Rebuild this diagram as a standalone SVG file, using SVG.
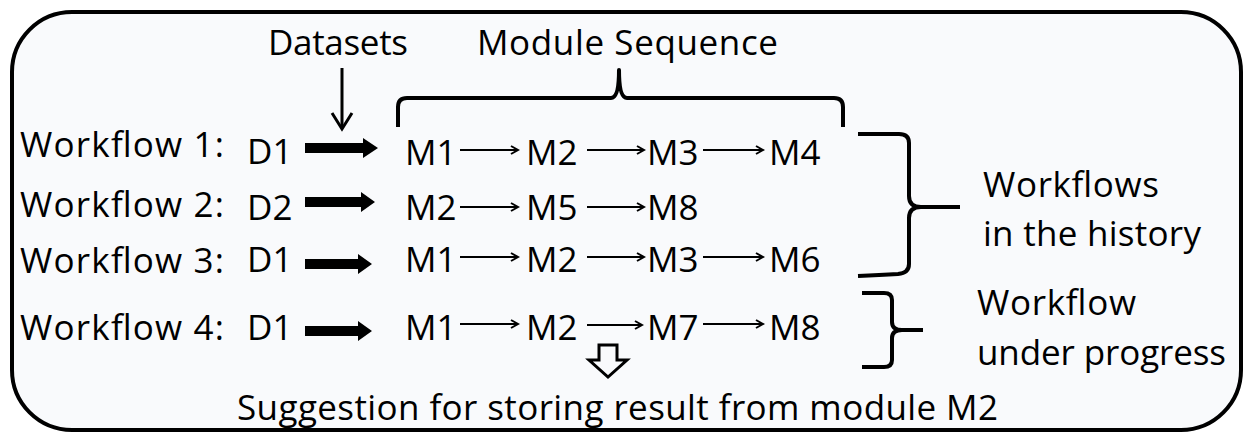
<svg xmlns="http://www.w3.org/2000/svg" width="1244" height="436" viewBox="0 0 1244 436">
<defs>
<style>
text{font-family:"Open Sans","Noto Sans","DejaVu Sans",sans-serif;font-size:35px;fill:#000}
.thin{stroke:#000;stroke-width:2;fill:none}
.head{stroke:#000;stroke-width:2;fill:none;stroke-linejoin:miter}
.brace{stroke:#000;stroke-width:4;fill:none;stroke-linecap:butt;stroke-linejoin:round}
.bold{fill:#000}
</style>
<marker id="ah" markerWidth="10" markerHeight="10" refX="8" refY="5" orient="auto" markerUnits="userSpaceOnUse">
<path d="M1,1 L8,5 L1,9" fill="none" stroke="#000" stroke-width="2"/>
</marker>
</defs>
<rect id="frame" x="12" y="12" width="1229" height="418" rx="60" ry="60" fill="#f9fafc" stroke="#000" stroke-width="4"/>

<g id="header">
<text x="268" y="55" textLength="140" lengthAdjust="spacing">Datasets</text>
<text x="477" y="55" textLength="301" lengthAdjust="spacing">Module Sequence</text>
</g>

<g id="labels">
<text x="20" y="157" textLength="204" lengthAdjust="spacing">Workflow 1:</text>
<text x="20" y="217" textLength="204" lengthAdjust="spacing">Workflow 2:</text>
<text x="20" y="273" textLength="204" lengthAdjust="spacing">Workflow 3:</text>
<text x="20" y="340" textLength="204" lengthAdjust="spacing">Workflow 4:</text>
</g>

<g id="datasets">
<text x="247" y="164">D1</text>
<text x="247" y="220">D2</text>
<text x="247" y="272">D1</text>
<text x="247" y="340">D1</text>
</g>

<g id="row1">
<text x="405" y="165">M1</text>
<text x="526" y="165">M2</text>
<text x="647" y="165">M3</text>
<text x="769" y="165">M4</text>
</g>
<g id="row2">
<text x="405" y="220">M2</text>
<text x="526" y="220">M5</text>
<text x="647" y="220">M8</text>
</g>
<g id="row3">
<text x="405" y="272">M1</text>
<text x="526" y="272">M2</text>
<text x="647" y="272">M3</text>
<text x="769" y="272">M6</text>
</g>
<g id="row4">
<text x="405" y="340">M1</text>
<text x="526" y="340">M2</text>
<text x="647" y="340">M7</text>
<text x="769" y="340">M8</text>
</g>

<g id="connectors">
<!-- datasets arrow -->
<line x1="342" y1="68" x2="342" y2="128" stroke="#000" stroke-width="3"/>
<path d="M332,113 L342,129 L352,113" fill="none" stroke="#000" stroke-width="3"/>
<!-- bold arrows -->
<path class="bold" d="M305,143 H363 V138 L378,148 L363,158 V153 H305 Z"/>
<path class="bold" d="M305,197 H361 V192 L375,202 L361,212 V207 H305 Z"/>
<path class="bold" d="M305,259 H358 V254 L372,264 L358,274 V269 H305 Z"/>
<path class="bold" d="M305,326 H358 V321 L372,331 L358,341 V336 H305 Z"/>
<!-- thin arrows row1 -->
<line class="thin" x1="460" y1="150" x2="518" y2="150" marker-end="url(#ah)"/>
<line class="thin" x1="587" y1="150" x2="644" y2="150" marker-end="url(#ah)"/>
<line class="thin" x1="703" y1="150" x2="763" y2="150" marker-end="url(#ah)"/>
<!-- row2 -->
<line class="thin" x1="460" y1="207" x2="518" y2="207" marker-end="url(#ah)"/>
<line class="thin" x1="587" y1="207" x2="644" y2="207" marker-end="url(#ah)"/>
<!-- row3 -->
<line class="thin" x1="460" y1="257" x2="518" y2="257" marker-end="url(#ah)"/>
<line class="thin" x1="587" y1="257" x2="644" y2="257" marker-end="url(#ah)"/>
<line class="thin" x1="703" y1="257" x2="763" y2="257" marker-end="url(#ah)"/>
<!-- row4 -->
<line class="thin" x1="460" y1="324" x2="518" y2="324" marker-end="url(#ah)"/>
<line class="thin" x1="587" y1="325" x2="642" y2="325" marker-end="url(#ah)"/>
<line class="thin" x1="703" y1="324" x2="763" y2="324" marker-end="url(#ah)"/>
<!-- hollow down arrow -->
<polygon points="599,345 617,345 617,360 627,360 608,377 589,360 599,360" fill="none" stroke="#000" stroke-width="3" stroke-linejoin="miter"/>
</g>

<g id="braces">
<path class="brace" d="M398,127 V107 Q398,98 407,98 H611 Q619,98 619,70 Q619,98 627,98 H834 Q843,98 843,107 V127"/>
<path class="brace" d="M858,134 H899 Q909,134 909,143 V196 Q909,207 921,207 H960 M921,207 Q909,207 909,218 V264 Q909,273 898,274 Q880,275 858,276"/>
<path class="brace" d="M862,293 H884 Q892,293 892,300 V322 Q892,330 902,330 H923 M902,330 Q892,330 892,338 V360 Q892,367 884,367 H862"/>
</g>

<g id="annotations">
<text x="983" y="197" textLength="176" lengthAdjust="spacing">Workflows</text>
<text x="983" y="246" textLength="218" lengthAdjust="spacing">in the history</text>
<text x="977" y="315" textLength="159" lengthAdjust="spacing">Workflow</text>
<text x="977" y="365" textLength="249" lengthAdjust="spacing">under progress</text>
</g>

<g id="suggestion">
<text x="237" y="420" textLength="761" lengthAdjust="spacing">Suggestion for storing result from module M2</text>
</g>
</svg>
